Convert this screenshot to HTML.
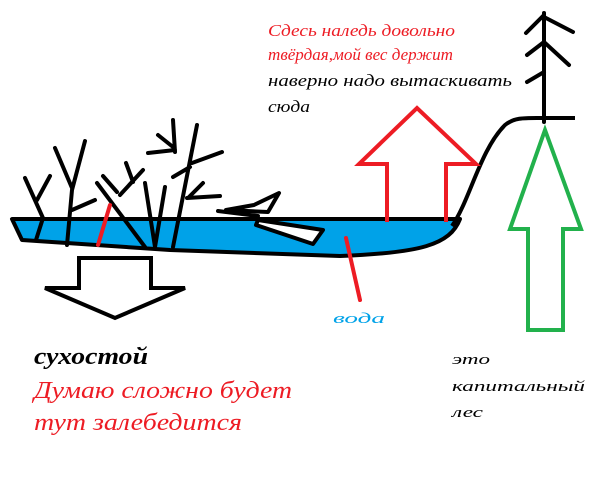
<!DOCTYPE html>
<html><head><meta charset="utf-8"><style>html,body{margin:0;padding:0;background:#fff;width:602px;height:484px;overflow:hidden}</style></head>
<body>
<svg width="602" height="484" viewBox="0 0 602 484" xmlns="http://www.w3.org/2000/svg">
<rect width="602" height="484" fill="#fff"/>
<!-- lake -->
<path d="M12,219 L460,219 C450,245 420,253 340,256 L170,250 L22,240 Z" fill="#00a2e8" stroke="#000" stroke-width="4" stroke-linejoin="round"/>
<!-- hill -->
<path d="M452,226 C470,200 480,150 505,125 C515,117 525,118 545,118 L575,118" fill="none" stroke="#000" stroke-width="4"/>
<!-- spruce -->
<g stroke="#000" stroke-width="4" stroke-linecap="round" fill="none">
<path d="M544,13 L544,122"/>
<path d="M544,15 L526,33 M544,17 L573,32 M544,42 L527,55 M544,42 L569,65 M544,72 L527,82"/>
</g>
<!-- dead trees -->
<g stroke="#000" stroke-width="4" stroke-linecap="round" fill="none">
<path d="M25,178 L43,218 L36,240 M50,176 L37,200"/>
<path d="M55,148 L72,188 M85,141 L72,190 L67,245 M72,210 L95,200"/>
<path d="M97,183 L145,247 M103,176 L117,192 M126,163 L133,182 M143,170 L120,195"/>
<path d="M145,183 L155,247 M165,187 L155,247"/>
<path d="M197,125 L173,247 M173,120 L175,152 M158,135 L173,147 M148,153 L175,150 M222,152 L192,163 M173,177 L190,167 M203,183 L188,198 M187,198 L220,196"/>
</g>
<!-- boat -->
<g stroke="#000" stroke-width="4" stroke-linejoin="round" stroke-linecap="round">
<path d="M226,210 L268,212 L279,193 L254,205 Z" fill="#fff"/>
<path d="M218,211 L258,216" fill="none"/>
<path d="M258,220 L323,230 L313,244 L256,225 Z" fill="#fff"/>
</g>
<!-- red lines -->
<g stroke="#ed1c24" stroke-width="4" stroke-linecap="round">
<path d="M110,205 L98,245"/>
<path d="M346,238 L360,300"/>
</g>
<!-- down arrow -->
<path d="M79,258 L151,258 L151,288 L185,288 L115,318 L45,288 L79,288 Z" fill="#fff" stroke="#000" stroke-width="4" stroke-linejoin="miter"/>
<!-- red arrow -->
<path d="M387,222 L387,164 L359,164 L417,108 L476,164 L446,164 L446,222" fill="none" stroke="#ed1c24" stroke-width="4"/>
<!-- green arrow -->
<path d="M528,330 L528,229 L510,229 L545,130 L581,229 L563,229 L563,330 Z" fill="none" stroke="#22b14c" stroke-width="4"/>
<!-- texts -->
<g font-family="'Liberation Serif', serif" font-style="italic">
<text x="268" y="36" font-size="17" fill="#ed1c24" textLength="187" lengthAdjust="spacingAndGlyphs">Сдесь наледь довольно</text>
<text x="268" y="60" font-size="17" fill="#ed1c24" textLength="185" lengthAdjust="spacingAndGlyphs">твёрдая,мой вес держит</text>
<text x="268" y="86" font-size="17" fill="#000" textLength="244" lengthAdjust="spacingAndGlyphs">наверно надо вытаскивать</text>
<text x="268" y="112" font-size="17" fill="#000" textLength="42" lengthAdjust="spacingAndGlyphs">сюда</text>
<text x="34" y="364" font-size="24" font-weight="bold" fill="#000" textLength="114" lengthAdjust="spacingAndGlyphs">сухостой</text>
<text x="34" y="398" font-size="24" fill="#ed1c24" textLength="258" lengthAdjust="spacingAndGlyphs">Думаю сложно будет</text>
<text x="34" y="430" font-size="24" fill="#ed1c24" textLength="208" lengthAdjust="spacingAndGlyphs">тут залебедится</text>
<text x="452" y="364" font-size="15" fill="#000" textLength="38" lengthAdjust="spacingAndGlyphs">это</text>
<text x="452" y="391" font-size="15" fill="#000" textLength="133" lengthAdjust="spacingAndGlyphs">капитальный</text>
<text x="452" y="417" font-size="15" fill="#000" textLength="31" lengthAdjust="spacingAndGlyphs">лес</text>
<text x="333" y="323" font-size="15" fill="#00a2e8" textLength="52" lengthAdjust="spacingAndGlyphs">вода</text>
</g>
</svg>
</body></html>
